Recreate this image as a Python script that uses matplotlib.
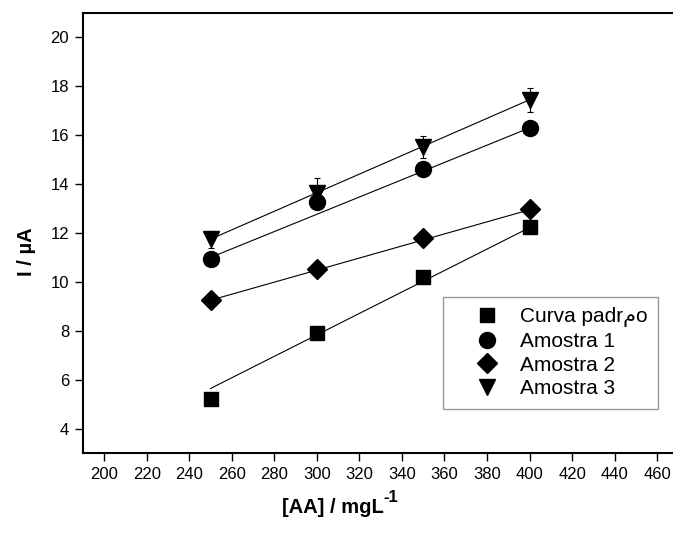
import matplotlib
matplotlib.use('Agg')

import matplotlib.pyplot as plt
from matplotlib.lines import Line2D

plt.rcParams['font.family'] = ['Liberation Sans', 'DejaVu Sans']

# concentrations
conc = [250, 300, 350, 400]

# currents
curva = [5.22, 7.9, 10.2, 12.25]
amostra1 = [10.95, 13.25, 14.6, 16.28]
amostra2 = [9.25, 10.52, 11.8, 12.97]
amostra3 = [11.75, 13.65, 15.52, 17.45]
amostra3_err = [0.35, 0.6, 0.45, 0.5]

# linear fit lines, value at 250 and 400
fit_x = [250, 400]
fit_curva = [5.64, 12.22]
fit_a1 = [11.0, 16.3]
fit_a2 = [9.25, 12.95]
fit_a3 = [11.75, 17.45]

labels = ['Curva padr\u0645o', 'Amostra 1', 'Amostra 2', 'Amostra 3']
xticks = list(range(200, 461, 20))
yticks = list(range(4, 21, 2))

fig = plt.figure(figsize=(6.73, 5.36), dpi=100)
ax = fig.add_axes([83/673, 83/536, 595.4/673, 440/536])

for fy in [fit_curva, fit_a1, fit_a2, fit_a3]:
    ax.plot(fit_x, fy, color='black', lw=0.8, zorder=2)

ax.plot(conc, curva, 's', color='black', ms=9.6, zorder=3)
ax.plot(conc, amostra1, 'o', color='black', ms=11.5, zorder=3)
ax.plot(conc, amostra2, 'D', color='black', ms=10, zorder=3)
ax.errorbar(conc, amostra3, yerr=amostra3_err, fmt='v', color='black',
            ms=12, elinewidth=0.8, capsize=2, capthick=0.8, zorder=3)

ax.set_xlim(190, 470)
ax.set_ylim(3, 21)
ax.set_xticks(xticks)
ax.set_yticks(yticks)
ax.tick_params(direction='out', length=6, width=1, labelsize=12, pad=4)
for s in ax.spines.values():
    s.set_linewidth(1.5)

# x label with a bold "-1" superscript
xl = fig.text(282/673, 1 - 513/536, '[AA] / mgL', fontsize=14.5,
              fontweight='bold', ha='left', va='baseline')
ax.annotate('-1', xy=(1.0, 0.62), xycoords=xl, xytext=(-0.5, 0), textcoords='offset points',
            fontsize=12, fontweight='bold', ha='left', va='bottom', annotation_clip=False)
fig.text(26/673, 1 - 252/536, 'I / \u00b5A', fontsize=14.5, fontweight='bold',
         rotation=90, ha='center', va='center')

handles = [Line2D([], [], ls='none', marker=m, color='black', ms=s)
           for m, s in zip(['s', 'o', 'D', 'v'], [9.6, 11.5, 10, 12])]
leg = ax.legend(handles, labels, loc='upper left', bbox_to_anchor=(443/673, 1 - 297/536),
                bbox_transform=fig.transFigure, fontsize=15, frameon=True,
                fancybox=False, edgecolor='#808080', borderpad=0.5,
                labelspacing=0.22, handlelength=3.2, handletextpad=0.0,
                borderaxespad=0)
leg.get_frame().set_linewidth(1.0)

fig.savefig('out.png', dpi=100)
